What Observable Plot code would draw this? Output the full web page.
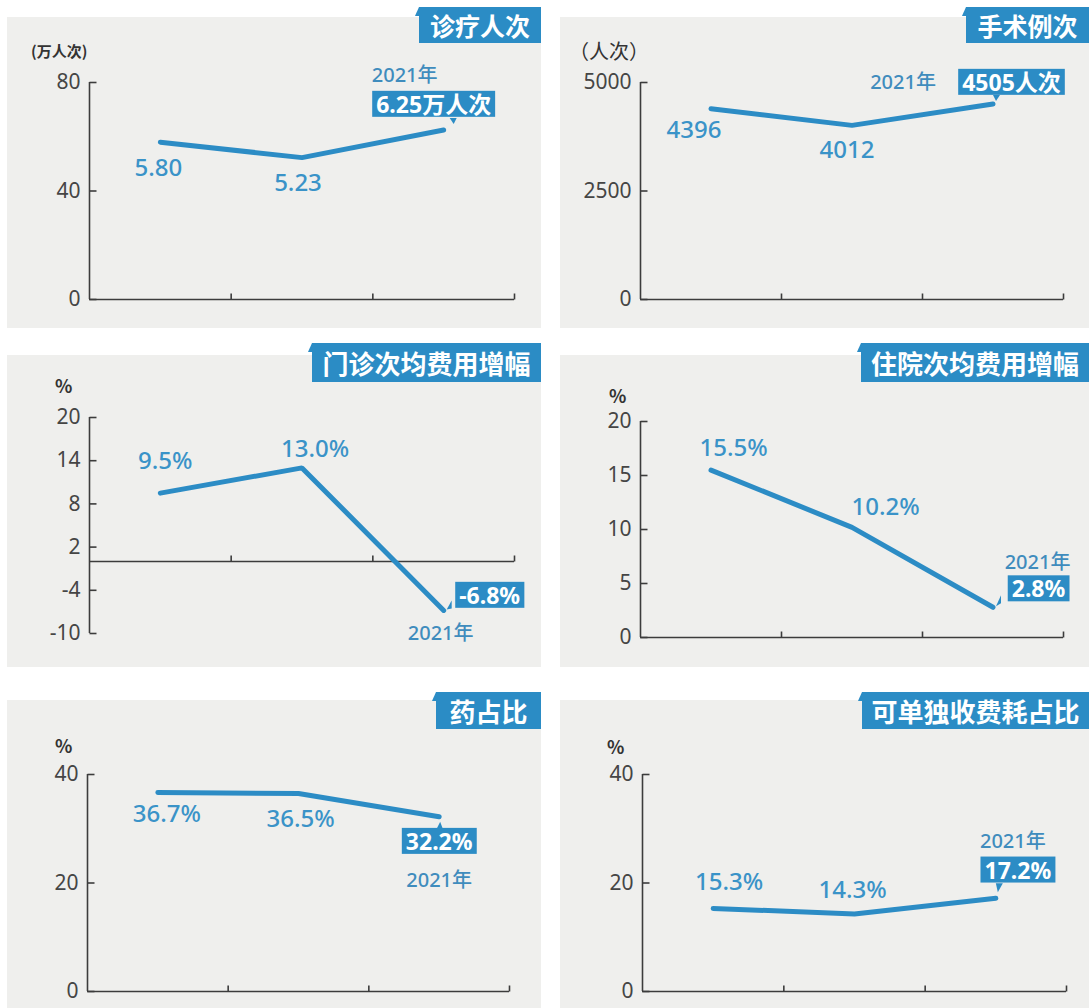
<!DOCTYPE html>
<html><head><meta charset="utf-8">
<script src="https://cdn.jsdelivr.net/npm/d3@7"></script>
<script src="https://cdn.jsdelivr.net/npm/@observablehq/plot@0.6"></script>
<style>
body{margin:0;background:#fff;}
#page{position:relative;width:1089px;height:1008px;overflow:hidden;font-family:"Noto Sans","Noto Sans CJK SC",sans-serif;}
.bg{position:absolute;background:#efefed;}
.title{position:absolute;background:#2b8cc5;color:#fff;font-weight:700;font-family:"Noto Sans CJK SC",sans-serif;display:flex;align-items:center;justify-content:center;white-space:nowrap;}
.notch{position:absolute;background:#2b8cc5;clip-path:polygon(100% 0,100% 100%,0 100%);}
.unit{position:absolute;color:#333;font-family:"Noto Sans CJK SC",sans-serif;white-space:nowrap;transform:translateY(-50%);}
.cell{position:absolute;}
</style></head><body><div id="page"></div>
<script>
// ---- data ----
const periods = ["2019年", "2020年", "2021年"];
const visits = [58.0, 52.3, 62.5];            // 诊疗人次, drawn on the 0–80 axis
const visitLabels = ["5.80", "5.23", "6.25万人次"];
const visitTicks = [0, 40, 80];
const surgeries = [4396, 4012, 4505];         // 手术例次
const surgeryLabels = ["4396", "4012", "4505人次"];
const surgeryTicks = [0, 2500, 5000];
const outpatientGrowth = [9.5, 13.0, -6.8];   // 门诊次均费用增幅
const outpatientLabels = ["9.5%", "13.0%", "-6.8%"];
const outpatientTicks = [-10, -4, 2, 8, 14, 20];
const inpatientGrowth = [15.5, 10.2, 2.8];    // 住院次均费用增幅
const inpatientLabels = ["15.5%", "10.2%", "2.8%"];
const inpatientTicks = [0, 5, 10, 15, 20];
const drugShare = [36.7, 36.5, 32.2];         // 药占比
const drugLabels = ["36.7%", "36.5%", "32.2%"];
const drugTicks = [0, 20, 40];
const consumableShare = [15.3, 14.3, 17.2];   // 可单独收费耗占比
const consumableLabels = ["15.3%", "14.3%", "17.2%"];
const consumableTicks = [0, 20, 40];
const titles = ["诊疗人次", "手术例次", "门诊次均费用增幅", "住院次均费用增幅", "药占比", "可单独收费耗占比"];
const units = ["(万人次)", "（人次）", "%", "%", "%", "%"];

// ---- layout ----
const blue = "#2c8cc5", labelBlue = "#3a93c8", yearBlue = "#3f8cbd", axisColor = "#3c3c3c";
const panels = [
  {cell:[0,0,545,335], bg:[7,17,534,311], titleBox:[419,7,122,36], unitPos:[31,50,15,700],
   xr:[89,514], yr:[299,82], yd:[0,80], ticks:visitTicks, values:visits, labels:visitLabels,
   off:[[-2,26],[-4,26]], hl:[-10,-24.5], year:[-39,-54.5], ptr:[[6,-12],[13,-12],[10,-6]]},
  {cell:[545,0,544,335], bg:[560,17,529,311], titleBox:[966,7,123,36], unitPos:[569,50,20,400],
   xr:[640,1063], yr:[299,82], yd:[0,5000], ticks:surgeryTicks, values:surgeries, labels:surgeryLabels,
   off:[[-17,22],[-5,25]], hl:[18.5,-20.5], year:[-90,-21.5], ptr:[[0,-9],[7,-9],[3,-3]]},
  {cell:[0,335,545,335], bg:[7,355,534,312], titleBox:[312,343,229,39], unitPos:[55,385,18,700],
   xr:[89,514], yr:[633,417], yd:[-10,20], ticks:outpatientTicks, values:outpatientGrowth, labels:outpatientLabels,
   off:[[5,-32],[13,-19]], hl:[46,-14], year:[-3,23], ptr:[[8,-10],[8,-2],[3,-1]]},
  {cell:[545,335,544,335], bg:[560,355,529,312], titleBox:[861,343,228,39], unitPos:[609,395,18,700],
   xr:[640,1063], yr:[637,421], yd:[0,20], ticks:inpatientTicks, values:inpatientGrowth, labels:inpatientLabels,
   off:[[22.5,-21.6],[33.5,-20]], hl:[45.5,-17.3], year:[44.5,-45], ptr:[[8,-12],[8,-4],[3,-1]]},
  {cell:[0,670,545,338], bg:[7,700,534,308], titleBox:[436,692,105,37], unitPos:[55,745,18,700],
   xr:[87,509], yr:[991,774], yd:[0,40], ticks:drugTicks, values:drugShare, labels:drugLabels,
   off:[[9,22],[2,26]], hl:[0,25.7], year:[0,63.7], ptr:[[-3,13],[4,13],[1,5]]},
  {cell:[545,670,544,338], bg:[560,700,529,308], titleBox:[862,692,227,37], unitPos:[607,746,18,700],
   xr:[642,1066], yr:[991,774], yd:[0,40], ticks:consumableTicks, values:consumableShare, labels:consumableLabels,
   off:[[16,-26],[-2,-23.4]], hl:[22,-27], year:[17,-56.7], ptr:[[0,-15],[7,-15],[2,-6]]}
];

const page = document.getElementById("page");
const font = "'Noto Sans','Noto Sans CJK SC',sans-serif";

panels.forEach((p, k) => {
  const bg = document.createElement("div");
  bg.className = "bg";
  Object.assign(bg.style, {left: p.bg[0]+"px", top: p.bg[1]+"px", width: p.bg[2]+"px", height: p.bg[3]+"px"});
  page.append(bg);
});

panels.forEach((p, k) => {
  const [cx, cy, cw, ch] = p.cell;
  const rows = p.values.map((v, i) => ({pos: i + 0.5, value: v, label: p.labels[i], period: periods[i]}));
  const last = rows[2];
  const hTick = {draw(ctx) { ctx.moveTo(0, 0); ctx.lineTo(7, 0); }};
  const vTick = {draw(ctx) { ctx.moveTo(0, 0); ctx.lineTo(0, -6); }};
  const ptrSym = {draw(ctx) { const [a, b, t] = p.ptr; ctx.moveTo(a[0], a[1]); ctx.lineTo(b[0], b[1]); ctx.lineTo(t[0], t[1]); ctx.closePath(); }};
  const marks = [
    Plot.ruleX([0], {y1: p.yd[0], y2: p.yd[1], stroke: axisColor, strokeWidth: 1.6}),
    Plot.ruleY([0], {x1: 0, x2: 3, stroke: axisColor, strokeWidth: 1.6}),
    Plot.dot(p.ticks, {x: 0, y: d => d, symbol: hTick, stroke: axisColor, strokeWidth: 1.6, fill: "none"}),
    Plot.dot([1, 2, 3], {x: d => d, y: 0, symbol: vTick, stroke: axisColor, strokeWidth: 1.6, fill: "none"}),
    Plot.text(p.ticks, {x: 0, y: d => d, text: d => String(d), textAnchor: "end", dx: -9, fontSize: 21, fill: "#454545"}),
    Plot.line(rows, {x: "pos", y: "value", stroke: blue, strokeWidth: 5, strokeLinejoin: "miter"}),
    Plot.text([rows[0]], {x: "pos", y: "value", text: "label", dx: p.off[0][0], dy: p.off[0][1], fontSize: 24, fontWeight: 500, fill: labelBlue}),
    Plot.text([rows[1]], {x: "pos", y: "value", text: "label", dx: p.off[1][0], dy: p.off[1][1], fontSize: 24, fontWeight: 500, fill: labelBlue}),
    Plot.text([last], {x: "pos", y: "value", text: "period", dx: p.year[0], dy: p.year[1], fontSize: 20, fontWeight: 500, fill: yearBlue}),
    Plot.dot([last], {x: "pos", y: "value", symbol: ptrSym, fill: blue, stroke: "none"}),
    Plot.text([last], {x: "pos", y: "value", text: "label", dx: p.hl[0], dy: p.hl[1], fontSize: 23, fontWeight: 700, fill: "#fffffe"})
  ];
  const svg = Plot.plot({
    width: cw, height: ch, margin: 0,
    style: {background: "transparent", overflow: "visible", fontFamily: font},
    x: {domain: [0, 3], range: [p.xr[0] - cx, p.xr[1] - cx], axis: null},
    y: {domain: p.yd, range: [p.yr[0] - cy, p.yr[1] - cy], axis: null},
    marks
  });
  const cell = document.createElement("div");
  cell.className = "cell";
  Object.assign(cell.style, {left: cx + "px", top: cy + "px", width: cw + "px", height: ch + "px"});
  cell.append(svg);
  page.append(cell);
  svg.querySelectorAll('g[fill="#fffffe"] text').forEach(t => {
    const b = t.getBBox();
    const r = document.createElementNS("http://www.w3.org/2000/svg", "rect");
    r.setAttribute("x", b.x - 4);
    r.setAttribute("width", b.width + 8);
    r.setAttribute("y", b.y + b.height / 2 - 13);
    r.setAttribute("height", 26);
    r.setAttribute("fill", blue);
    const tr = t.getAttribute("transform");
    if (tr) r.setAttribute("transform", tr);
    t.parentNode.insertBefore(r, t);
  });

  const tb = p.titleBox;
  const notch = document.createElement("div");
  notch.className = "notch";
  Object.assign(notch.style, {left: (tb[0] - 4) + "px", top: tb[1] + "px", width: "4px", height: "9px"});
  page.append(notch);
  const title = document.createElement("div");
  title.className = "title";
  title.textContent = titles[k];
  Object.assign(title.style, {left: tb[0] + "px", top: tb[1] + "px", width: tb[2] + "px", height: tb[3] + "px", fontSize: (k === 0 || k === 1 ? 25 : 26) + "px"});
  page.append(title);
  const u = document.createElement("div");
  u.className = "unit";
  u.textContent = units[k];
  Object.assign(u.style, {left: p.unitPos[0] + "px", top: p.unitPos[1] + "px", fontSize: p.unitPos[2] + "px", fontWeight: p.unitPos[3]});
  page.append(u);
});
</script></body></html>
